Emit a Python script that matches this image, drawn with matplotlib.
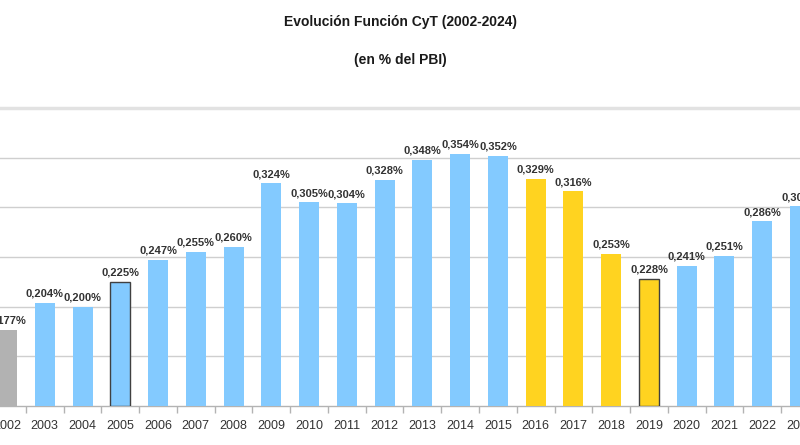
import matplotlib
matplotlib.use("Agg")
import matplotlib.pyplot as plt
from matplotlib.ticker import FixedLocator

plt.rcParams['font.family'] = ['Liberation Sans', 'DejaVu Sans']

years = ['2002', '2003', '2004', '2005', '2006', '2007', '2008', '2009', '2010', '2011', '2012',
         '2013', '2014', '2015', '2016', '2017', '2018', '2019', '2020', '2021', '2022', '2023']
values = [0.177, 0.204, 0.200, 0.225, 0.247, 0.255, 0.260, 0.324, 0.305, 0.304, 0.328,
          0.348, 0.354, 0.352, 0.329, 0.316, 0.253, 0.228, 0.241, 0.251, 0.286, 0.301]
gray_years = ['2002']
yellow_years = ['2016', '2017', '2018', '2019']
outlined_years = ['2005', '2019']

BLUE = '#83CAFF'
YELLOW = '#FFD320'
GRAY = '#B2B2B2'

fig = plt.figure(figsize=(8, 4.45), dpi=100)
ax = fig.add_axes([0, 1 - 406 / 445, 1, (406 - 108) / 445])

x = list(range(len(years)))
colors = []
for y in years:
    if y in gray_years:
        colors.append(GRAY)
    elif y in yellow_years:
        colors.append(YELLOW)
    else:
        colors.append(BLUE)

bars = ax.bar(x, [v - 0.1 for v in values], bottom=0.1, width=0.53, color=colors, zorder=3)
for b, y in zip(bars, years):
    if y in outlined_years:
        b.set_edgecolor('#404040')
        b.set_linewidth(1.0)

for xi, v in zip(x, values):
    ax.annotate(f"{v:.3f}".replace('.', ',') + '%', (xi, v), xytext=(0, 3),
                textcoords='offset points', ha='center', va='bottom',
                fontsize=8, fontweight='bold', color='#333333', zorder=4)

ax.set_xlim(-0.185, 20.98)
ax.set_ylim(0.1, 0.4)
ax.set_yticks([0.15, 0.2, 0.25, 0.3, 0.35])
ax.yaxis.grid(True, color='#cfcfcf', linewidth=1.0, zorder=0)
ax.axhline(0.4, color='#e2e2e2', linewidth=2.5, zorder=1, clip_on=False)
ax.tick_params(axis='y', left=False, labelleft=False)

ax.set_xticks(x)
ax.set_xticklabels(years, fontsize=9, color='#333333')
ax.xaxis.set_minor_locator(FixedLocator([i + 0.5 for i in range(-1, len(years))]))
ax.tick_params(axis='x', which='major', length=0, pad=10)
ax.tick_params(axis='x', which='minor', length=5, color='#b3b3b3', width=1)

for s in ['top', 'left', 'right']:
    ax.spines[s].set_visible(False)
ax.spines['bottom'].set_color('#b3b3b3')
ax.spines['bottom'].set_linewidth(1)

fig.text(0.5, 1 - 22 / 445, 'Evolución Función CyT (2002-2024)', ha='center', va='center',
         fontsize=10, fontweight='bold', color='#1a1a1a')
fig.text(0.5, 1 - 60 / 445, '(en % del PBI)', ha='center', va='center',
         fontsize=10, fontweight='bold', color='#1a1a1a')

fig.savefig('out.png', dpi=100)
